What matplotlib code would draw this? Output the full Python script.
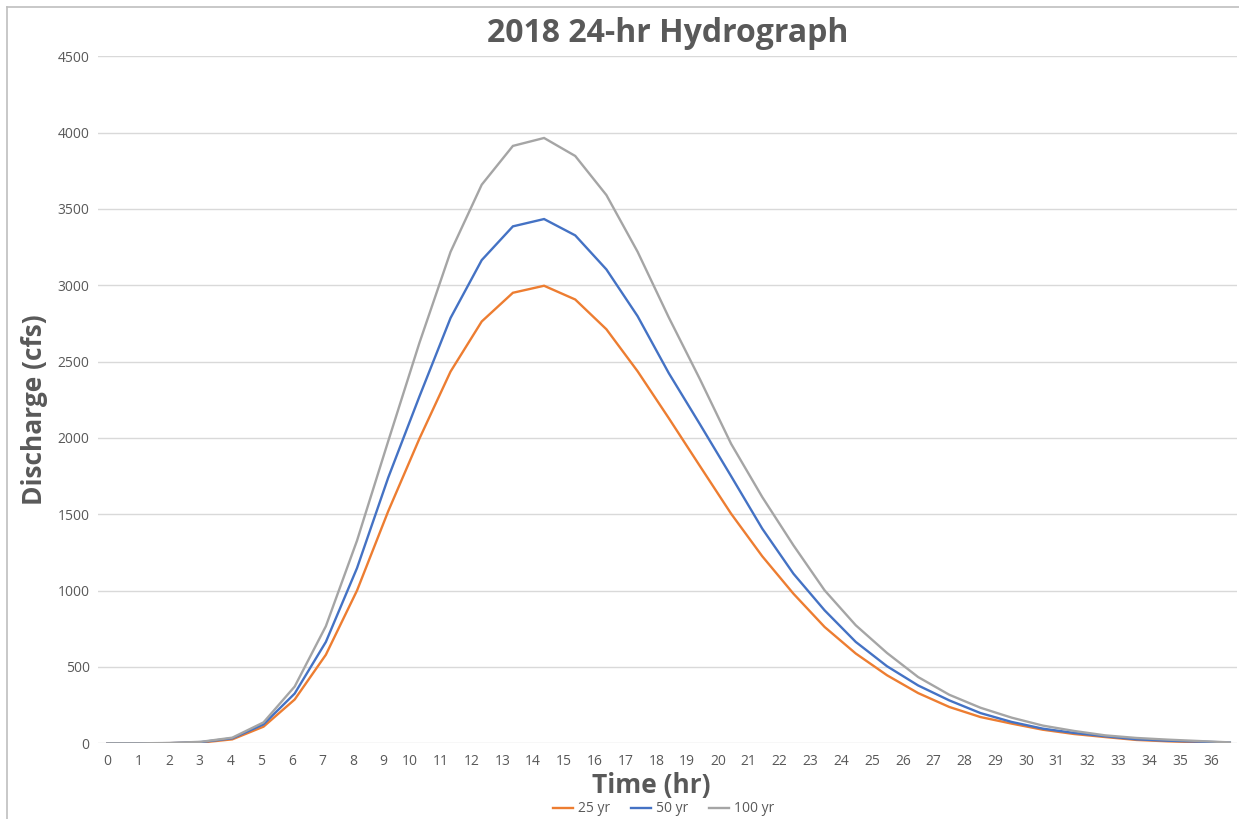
import matplotlib
matplotlib.use("Agg")
import matplotlib.pyplot as plt
from matplotlib.lines import Line2D

plt.rcParams['font.family'] = ['Open Sans', 'DejaVu Sans']

# hydrograph values (cfs), one per hour
hours = list(range(37))
q25 = [0, 0, 1, 5, 26, 109, 287, 580, 1001, 1520, 1995, 2435, 2763, 2951, 2997,
       2907, 2712, 2437, 2130, 1816, 1504, 1225, 980, 762, 588, 446, 329, 238,
       172, 129, 89, 61, 41, 22, 13, 7, 0]
q50 = [0, 0, 1, 8, 33, 124, 326, 664, 1148, 1740, 2271, 2786, 3165, 3386, 3434,
       3327, 3104, 2798, 2425, 2090, 1750, 1406, 1111, 871, 664, 505, 379, 281,
       198, 140, 96, 68, 46, 26, 17, 11, 5]
q100 = [0, 0, 2, 10, 37, 137, 372, 767, 1328, 1979, 2622, 3219, 3659, 3913, 3965,
        3847, 3591, 3220, 2790, 2385, 1962, 1613, 1297, 1002, 773, 592, 434, 318,
        233, 168, 116, 81, 52, 35, 24, 15, 6]
series_names = ['25 yr', '50 yr', '100 yr']
series_colors = ['#ED7D31', '#4472C4', '#A5A5A5']
tick_labels = [str(k) for k in range(37)]
y_ticks = list(range(0, 4501, 500))

txt = '#595959'
W, H = 1239, 819
fig = plt.figure(figsize=(W / 100, H / 100), dpi=100)
ax = fig.add_axes([98 / W, (H - 743.3) / H, (1237 - 98) / W, (743.3 - 56.3) / H])

for vals, name, col in zip([q25, q50, q100], series_names, series_colors):
    ax.plot(hours, vals, color=col, lw=1.7, label=name, solid_joinstyle='miter')

# excel labels sit slightly left of the data points
tick_pos = [k * 0.984 if k < 10 else 9.70 + (k - 10) * 0.988 for k in range(37)]
ax.set_xticks(tick_pos)
ax.set_xticklabels(tick_labels)
ax.set_yticks(y_ticks)
ax.set_yticklabels([str(v) for v in y_ticks])
ax.set_xlim(-0.31, 36.23)
ax.set_ylim(0, 4500)
ax.tick_params(axis='both', length=0, labelsize=10, labelcolor=txt)
ax.tick_params(axis='x', pad=8)
ax.tick_params(axis='y', pad=6)
ax.grid(axis='y', color='#D9D9D9', lw=1.0)
ax.set_axisbelow(True)
for s in ax.spines.values():
    s.set_visible(False)

fig.text(668 / W, (H - 34) / H, '2018 24-hr Hydrograph', ha='center', va='center',
         fontsize=23, fontweight='bold', color=txt)
fig.text(651.5 / W, (H - 785) / H, 'Time (hr)', ha='center', va='center',
         fontsize=19, fontweight='bold', color=txt)
fig.text(35 / W, (H - 410) / H, 'Discharge (cfs)', ha='center', va='center',
         rotation=90, fontsize=19, fontweight='bold', color=txt)

fig.legend(loc='center', bbox_to_anchor=(664 / W, 10 / H), ncol=3, frameon=False,
           fontsize=10, labelcolor=txt, handlelength=1.4, handletextpad=0.4,
           columnspacing=1.5, borderaxespad=0)

# chart frame (only left and top edges are visible in the crop)
fig.add_artist(Line2D([7 / W, 7 / W], [0, (H - 7) / H], color='#BFBFBF', lw=1.2))
fig.add_artist(Line2D([7 / W, 1], [(H - 7) / H, (H - 7) / H], color='#BFBFBF', lw=1.2))

fig.savefig('out.png', dpi=100)
